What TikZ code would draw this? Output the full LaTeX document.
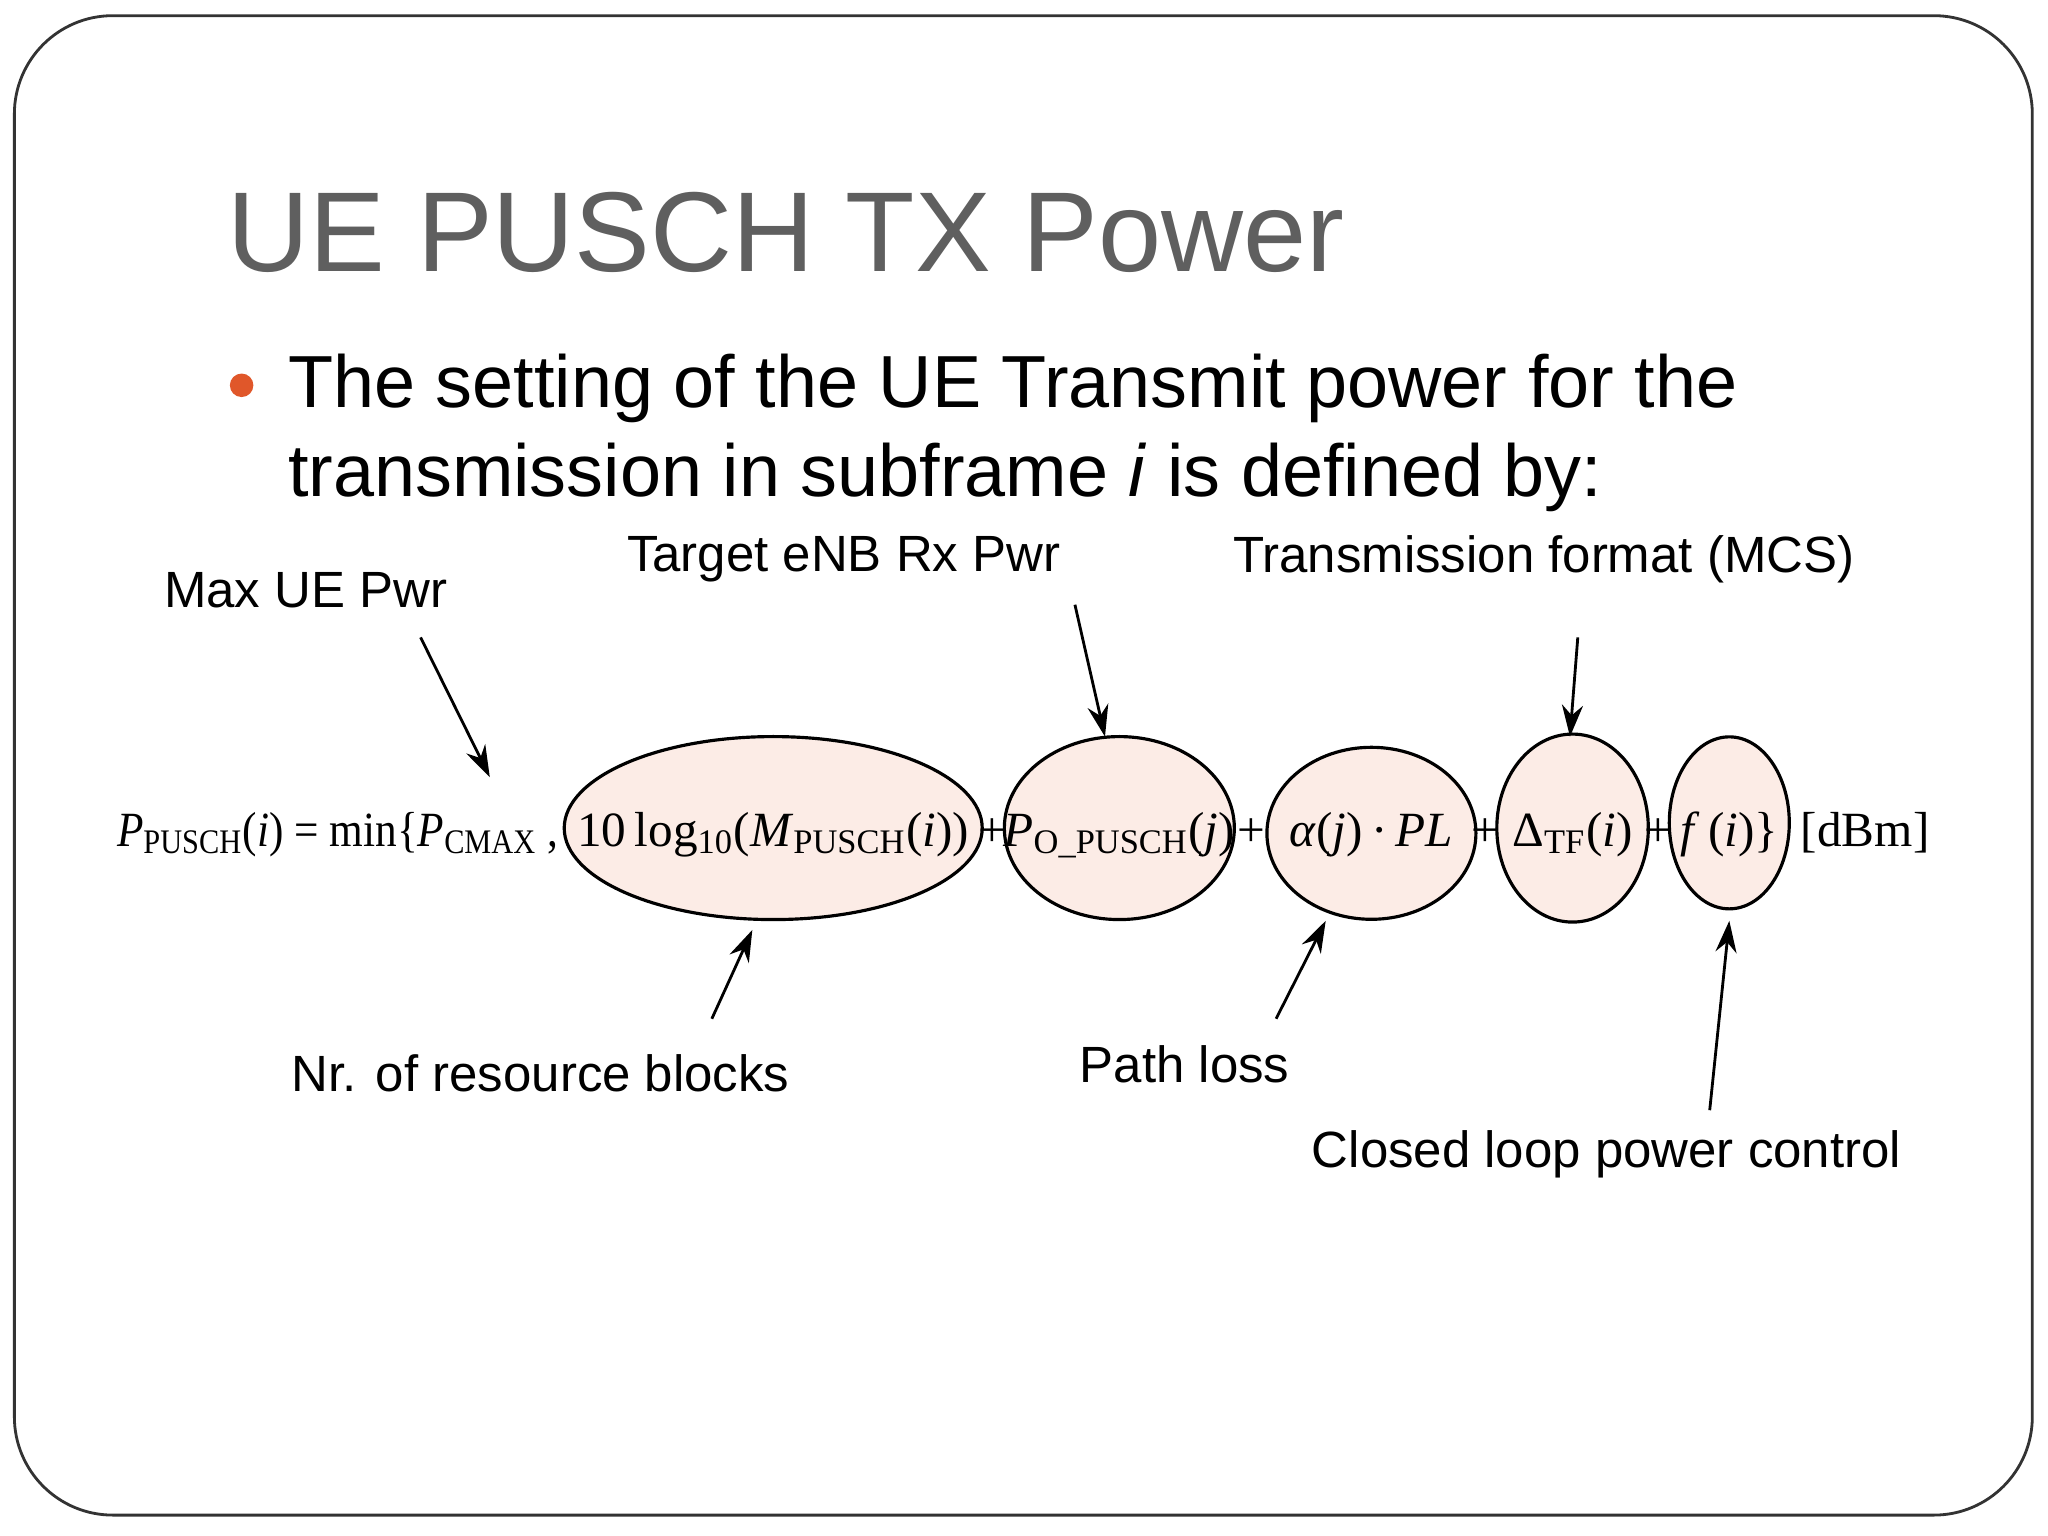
\documentclass[tikz,border=0pt]{standalone}
\usepackage{fontspec}
\setmainfont{Liberation Sans}
\newfontfamily\tnr{Liberation Serif}
\usetikzlibrary{shapes.geometric,arrows.meta}
\definecolor{pinkf}{HTML}{FCECE6}
\definecolor{titleg}{HTML}{5F5F5F}
\definecolor{bul}{HTML}{E0572A}
\newcommand{\sbx}[1]{\textsubscript{\upshape #1}}
\begin{document}
\begin{tikzpicture}[x=0.0130612cm,y=-0.0130612cm,
  ell/.style={ellipse,draw=black,line width=0.9pt,fill=pinkf,inner sep=0pt},
  lab/.style={font=\fontsize{14.5}{17}\selectfont,inner sep=0pt},
  fm/.style={font=\tnr\fontsize{14}{17}\selectfont,inner sep=0pt,anchor=base},
  arr/.style={-{Stealth[length=9pt,width=6pt]},line width=0.8pt}]
\useasboundingbox (0,0) rectangle (1568,1176);
\draw[line width=0.8pt,rounded corners=28pt,draw=black!80] (11,12) rectangle (1556,1160);
\node[anchor=west,text=titleg,font=\fontsize{32.3}{38}\selectfont,inner sep=0pt] (title) at (174,178) {UE PUSCH TX Power};
\fill[bul] (185,295) circle (9);
\node[anchor=base west,font=\fontsize{21}{24}\selectfont,inner sep=0pt] (l1) at (220,312) {The setting of the UE Transmit power for the};
\node[anchor=base west,font=\fontsize{21}{24}\selectfont,inner sep=0pt] (l2) at (220,380) {transmission in subframe \textit{i} is defined by:};
% ellipses
\node[ell,minimum width=4.18cm,minimum height=1.83cm] (e1) at (592,634) {};
\node[ell,minimum width=2.30cm,minimum height=1.83cm] (e2) at (857,634) {};
\node[ell,minimum width=2.09cm,minimum height=1.72cm] (e3) at (1050,638) {};
\node[ell,minimum width=1.515cm,minimum height=1.88cm] (e4) at (1204,634) {};
\node[ell,minimum width=1.20cm,minimum height=1.72cm] (e5) at (1324,630) {};
% formula
\node[fm,anchor=base east,xscale=0.88] (f0) at (428,648) {\textit{P}\sbx{PUSCH}(\textit{i}) = min\{\textit{P}\sbx{CMAX} ,};
\node[fm] (f1) at (592,648) {10\,log\sbx{10}(\textit{M}\sbx{PUSCH}(\textit{i}))};
\node[fm] (p1) at (760,648) {+};
\node[fm] (f2) at (857,648) {\textit{P}\sbx{O\_PUSCH}(\textit{j})};
\node[fm] (p2) at (958,648) {+};
\node[fm] (f3) at (1050,648) {\textit{α}(\textit{j})\,·\,\textit{PL}};
\node[fm] (p3) at (1137,648) {+};
\node[fm] (f4) at (1204,648) {Δ\sbx{TF}(\textit{i})};
\node[fm] (p4) at (1270,648) {+};
\node[fm] (f5) at (1324,648) {\textit{f}\,(\textit{i})\}};
\node[fm] (f6) at (1428,648) {[dBm]};
% labels
\node[lab] (lmax) at (234,452) {Max UE Pwr};
\node[lab] (ltar) at (646,428) {Target eNB Rx Pwr};
\node[lab] (ltf) at (1182,428) {Transmission format (MCS)};
\node[lab] (lnr) at (414,822) {Nr. of resource blocks};
\node[lab] (lpl) at (907,815) {Path loss};
\node[lab] (lcl) at (1230,884) {Closed loop power control};
\coordinate (a1s) at (322,488); \coordinate (a1e) at (375,595);
\coordinate (a2s) at (823,463); \coordinate (a2e) at (846,564);
\coordinate (a3s) at (1208,488); \coordinate (a3e) at (1202,564);
\coordinate (a4s) at (545,780); \coordinate (a4e) at (576,712);
\coordinate (a5s) at (977,780); \coordinate (a5e) at (1015,705);
\coordinate (a6s) at (1309,850); \coordinate (a6e) at (1324,705);
\draw[arr] (a1s) -- (a1e);
\draw[arr] (a2s) -- (a2e);
\draw[arr] (a3s) -- (a3e);
\draw[arr] (a4s) -- (a4e);
\draw[arr] (a5s) -- (a5e);
\draw[arr] (a6s) -- (a6e);
\end{tikzpicture}
\end{document}
